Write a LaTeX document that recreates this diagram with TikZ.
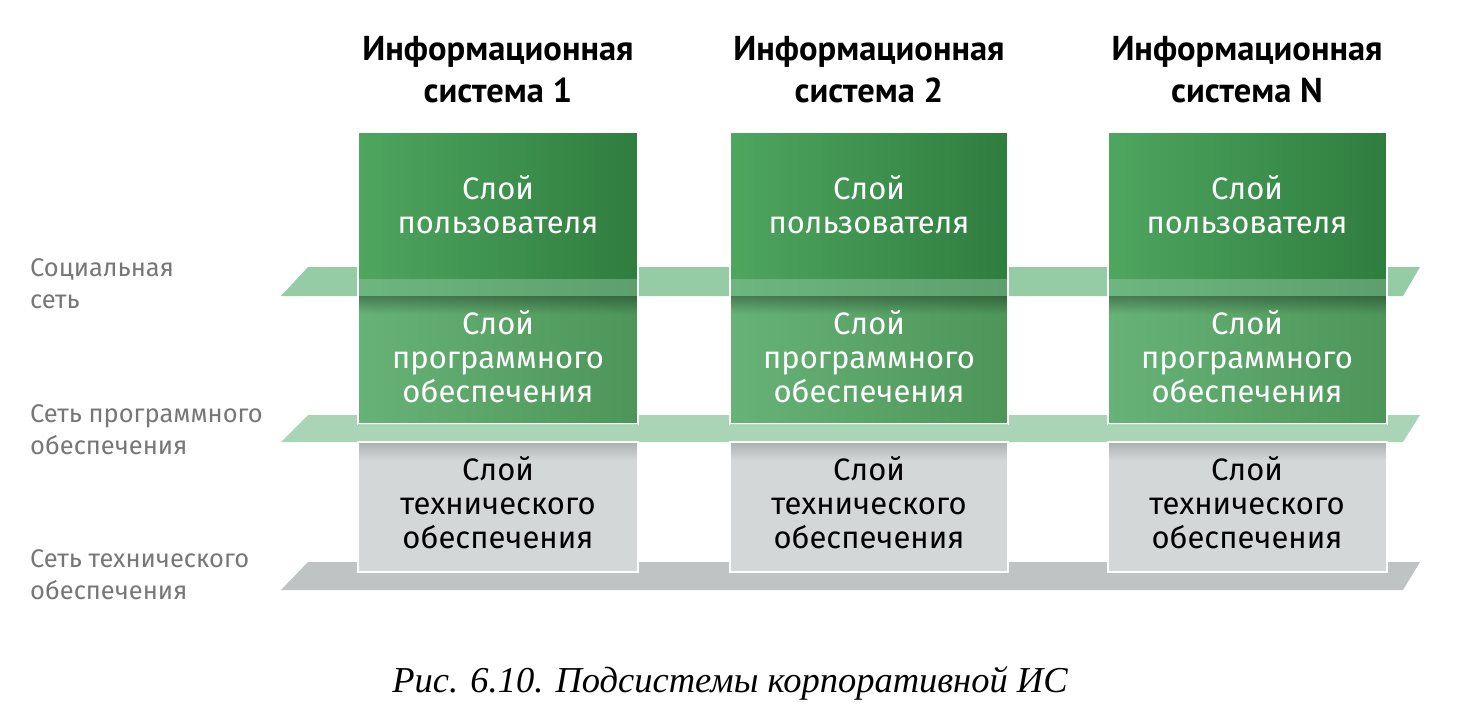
\documentclass[tikz,border=0pt]{standalone}
\usepackage{fontspec}
\setmainfont{Liberation Serif}
\newfontfamily\titlefont{PT Sans}
\newfontfamily\boxfont{Fira Sans}
\usetikzlibrary{fadings}
\definecolor{ugL}{HTML}{4EA65F}
\definecolor{ugR}{HTML}{2F7D3F}
\definecolor{sgL}{HTML}{67B377}
\definecolor{sgR}{HTML}{4D9559}
\definecolor{hw}{HTML}{D3D7D8}
\definecolor{planeA}{HTML}{95CBA5}
\definecolor{planeB}{HTML}{A9D5B6}
\definecolor{planeC}{HTML}{BFC3C4}
\definecolor{lbl}{HTML}{777777}
\tikzset{
  boxtxt/.style={font=\boxfont\fontsize{31}{34}\selectfont, align=center, inner sep=0pt},
  titletxt/.style={font=\titlefont\bfseries\fontsize{34.5}{42}\selectfont, align=center, inner sep=0pt},
  sidetxt/.style={font=\boxfont\fontsize{25.5}{32}\selectfont, text=lbl, align=left, anchor=north west, inner sep=0pt},
  edge/.style={draw=white, line width=1.2pt}
}
\begin{document}
\begin{tikzpicture}[x=1pt,y=-1pt]
\useasboundingbox[fill=white] (0,0) rectangle (1458,715);
% planes
\fill[planeA] (281,296) -- (308,267) -- (1420,267) -- (1403,296) -- cycle;
\fill[planeB] (281,442) -- (308,415) -- (1420,415) -- (1403,442) -- cycle;
\fill[planeC] (281,590) -- (308,562) -- (1420,562) -- (1403,590) -- cycle;
% columns
\foreach \l/\r/\n in {358/638/a,730/1008/b,1108/1387/c}{
  \shade[left color=ugL, right color=ugR] (\l,132) rectangle (\r,296);
  \fill[planeA, opacity=0.45] (\l,279) rectangle (\r,296);
  \shade[left color=sgL, right color=sgR] (\l,296) rectangle (\r,424);
  \fill[black, opacity=0.3, path fading=south] (\l,296) rectangle (\r,314);
  \fill[hw] (\l,442) rectangle (\r,572);
  \fill[black, opacity=0.18, path fading=south] (\l,442) rectangle (\r,460);
  \draw[edge] (\l,132) rectangle (\r,424);
  \fill[planeB, opacity=0.85] (\l,424) rectangle (\r,442);
  \draw[edge] (\l,442) rectangle (\r,572);
}
% titles
\node[titletxt] (t1) at (498,70) {Информационная\\система 1};
\node[titletxt] (t2) at (869,70) {Информационная\\система 2};
\node[titletxt] (t3) at (1247,70) {Информационная\\система N};
% box texts
\foreach \c/\n in {498/a,869/b,1247/c}{
  \node[boxtxt, text=white] (u\n) at (\c,205) {Слой\\пользователя};
  \node[boxtxt, text=white] (s\n) at (\c,357) {Слой\\программного\\обеспечения};
  \node[boxtxt, text=black] (h\n) at (\c,503) {Слой\\технического\\обеспечения};
}
% side labels
\node[sidetxt] (l1) at (30,258) {Социальная\\сеть};
\node[sidetxt] (l2) at (30,404) {Сеть программного\\обеспечения};
\node[sidetxt] (l3) at (30,549) {Сеть технического\\обеспечения};
% caption
\node[font=\itshape\fontsize{36.5}{44}\selectfont, inner sep=0pt] (cap) at (730,683) {Рис. 6.10. Подсистемы корпоративной ИС};
\end{tikzpicture}
\end{document}
